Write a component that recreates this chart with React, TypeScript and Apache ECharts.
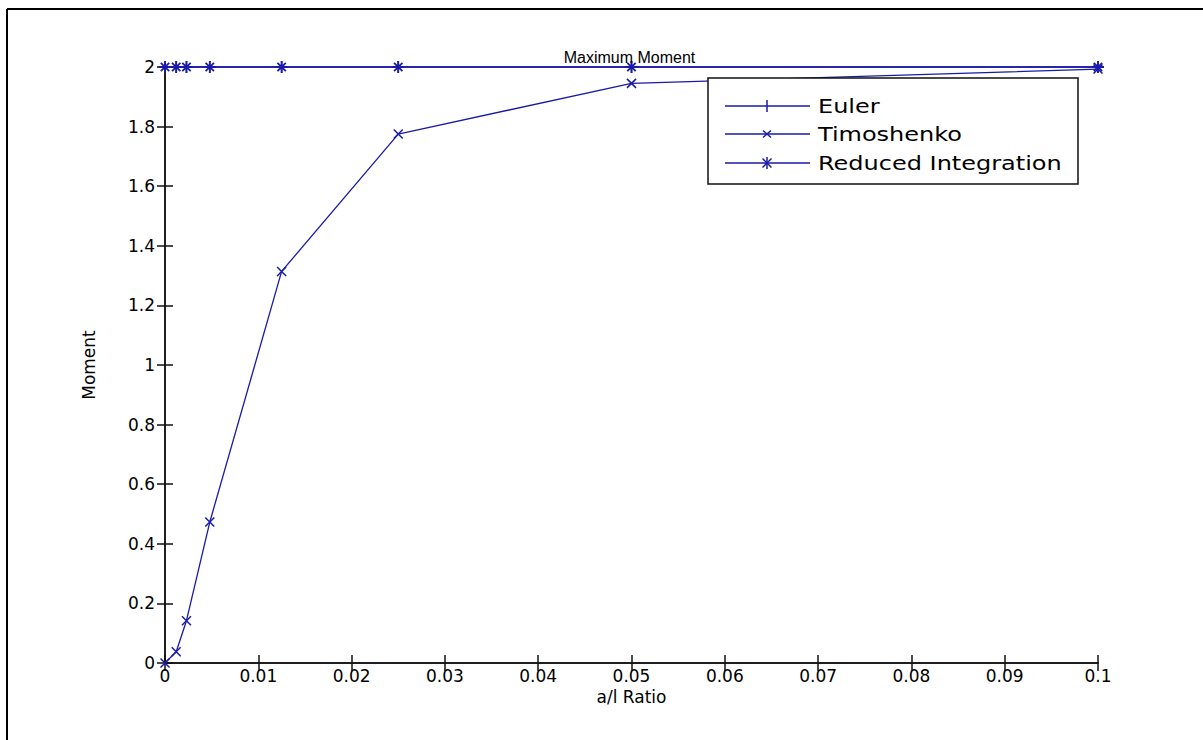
import React, { useEffect, useRef } from "react";
import * as echarts from "echarts";

const ratios = [0, 0.0012, 0.0023, 0.0048, 0.0125, 0.025, 0.05, 0.1];
const eulerMoment = [2, 2, 2, 2, 2, 2, 2, 2];
const timoshenkoMoment = [0, 0.038, 0.142, 0.473, 1.314, 1.775, 1.945, 1.993];
const reducedMoment = [2, 2, 2, 2, 2, 2, 2, 2];
const seriesNames = ["Euler", "Timoshenko", "Reduced Integration"];

const BLUE = "#1a1aa8";
const PLUS = "path://M5,0L5,10M0,5L10,5";
const CROSS = "path://M0,0L10,10M0,10L10,0";
const STAR = "path://M5,0L5,10M0,5L10,5M1.5,1.5L8.5,8.5M1.5,8.5L8.5,1.5";

const GRID = { left: 165, top: 67, width: 933, height: 596 };

function legendMarker(kind: string, cx: number, cy: number) {
  const s = { stroke: BLUE, lineWidth: 1.5 };
  const els: any[] = [];
  const seg = (x1: number, y1: number, x2: number, y2: number) =>
    els.push({ type: "line", z: 101, shape: { x1, y1, x2, y2 }, style: s });
  if (kind === "plus" || kind === "star") {
    seg(cx, cy - 6, cx, cy + 6);
  }
  if (kind === "cross") {
    seg(cx - 4, cy - 3.5, cx + 4, cy + 3.5);
    seg(cx - 4, cy + 3.5, cx + 4, cy - 3.5);
  }
  if (kind === "star") {
    seg(cx - 4.5, cy - 4.5, cx + 4.5, cy + 4.5);
    seg(cx - 4.5, cy + 4.5, cx + 4.5, cy - 4.5);
  }
  return els;
}

export default function App() {
  const ref = useRef<HTMLDivElement>(null);
  useEffect(() => {
    document.body.style.margin = "0";
    const chart = echarts.init(ref.current!, null, { renderer: "svg" });
    const pts = (ys: number[]) => ratios.map((x, i) => [x, ys[i]]);
    const axisLine = { show: true, lineStyle: { color: "#111", width: 1.5 } };
    const tickIn = { show: true, inside: true, length: 8, lineStyle: { color: "#111", width: 1.5 } };
    const labelStyle = { color: "#000", fontSize: 17, fontFamily: "DejaVu Sans" };

    const legendX = 708, legendY = 78;
    const rows = [106, 134, 163];
    const kinds = ["plus", "cross", "star"];
    const graphics: any[] = [
      { type: "line", shape: { x1: 7, y1: 9, x2: 1203, y2: 9 }, style: { stroke: "#000", lineWidth: 2 } },
      { type: "line", shape: { x1: 7, y1: 9, x2: 7, y2: 740 }, style: { stroke: "#000", lineWidth: 2 } },
      {
        type: "rect",
        z: 100,
        shape: { x: legendX, y: legendY, width: 370, height: 106 },
        style: { fill: "#fff", stroke: "#111", lineWidth: 1.5 },
      },
      {
        type: "text",
        z: 100,
        x: GRID.left + GRID.width / 2 - 2,
        y: 57,
        style: {
          text: "Maximum Moment",
          fill: "#000",
          fontSize: 16,
          fontFamily: "Liberation Sans",
          align: "center",
          verticalAlign: "middle",
        },
      },
    ];
    rows.forEach((y, i) => {
      graphics.push({ type: "line", z: 101, shape: { x1: 725, y1: y, x2: 810, y2: y }, style: { stroke: BLUE, lineWidth: 1.3 } });
      graphics.push(...legendMarker(kinds[i], 767, y));
      graphics.push({
        type: "text",
        z: 101,
        x: 818,
        y: y,
        scaleX: 1.2,
        style: { text: seriesNames[i], fill: "#000", fontSize: 20, fontFamily: "DejaVu Sans", verticalAlign: "middle" },
      });
    });

    chart.setOption({
      animation: false,
      backgroundColor: "#fff",
      grid: { ...GRID },
      xAxis: [
        {
          type: "value",
          position: "bottom",
          min: 0,
          max: 0.1,
          interval: 0.01,
          axisLine,
          axisTick: tickIn,
          axisLabel: { ...labelStyle, margin: 4 },
          splitLine: { show: false },
          name: "a/l Ratio",
          nameLocation: "middle",
          nameGap: 17,
          nameTextStyle: { color: "#000", fontSize: 17, fontFamily: "DejaVu Sans" },
        },
        {
          type: "value",
          position: "top",
          min: 0,
          max: 0.1,
          interval: 0.01,
          axisLine,
          axisTick: tickIn,
          axisLabel: { show: false },
          splitLine: { show: false },
        },
      ],
      yAxis: [
        {
          type: "value",
          position: "left",
          min: 0,
          max: 2,
          interval: 0.2,
          axisLine,
          axisTick: tickIn,
          axisLabel: { ...labelStyle, margin: 10 },
          splitLine: { show: false },
          name: "Moment",
          nameLocation: "middle",
          nameGap: 68,
          nameRotate: 90,
          nameTextStyle: { color: "#000", fontSize: 17, fontFamily: "DejaVu Sans" },
        },
        {
          type: "value",
          position: "right",
          min: 0,
          max: 2,
          interval: 0.2,
          axisLine,
          axisTick: tickIn,
          axisLabel: { show: false },
          splitLine: { show: false },
        },
      ],
      series: [
        {
          name: seriesNames[0],
          type: "line",
          data: pts(eulerMoment),
          symbol: PLUS,
          symbolSize: 12,
          clip: false,
          lineStyle: { color: BLUE, width: 1.3 },
          itemStyle: { color: BLUE, borderColor: BLUE, borderWidth: 1.5 },
        },
        {
          name: seriesNames[1],
          type: "line",
          data: pts(timoshenkoMoment),
          symbol: CROSS,
          symbolSize: 9,
          clip: false,
          lineStyle: { color: BLUE, width: 1.3 },
          itemStyle: { color: BLUE, borderColor: BLUE, borderWidth: 1.5 },
        },
        {
          name: seriesNames[2],
          type: "line",
          data: pts(reducedMoment),
          symbol: STAR,
          symbolSize: 12,
          clip: false,
          lineStyle: { color: BLUE, width: 1.3 },
          itemStyle: { color: BLUE, borderColor: BLUE, borderWidth: 1.8 },
        },
      ],
      graphic: graphics,
    });
    return () => chart.dispose();
  }, []);
  return <div ref={ref} style={{ position: "absolute", left: 0, top: 0, width: 1203, height: 740 }} />;
}
